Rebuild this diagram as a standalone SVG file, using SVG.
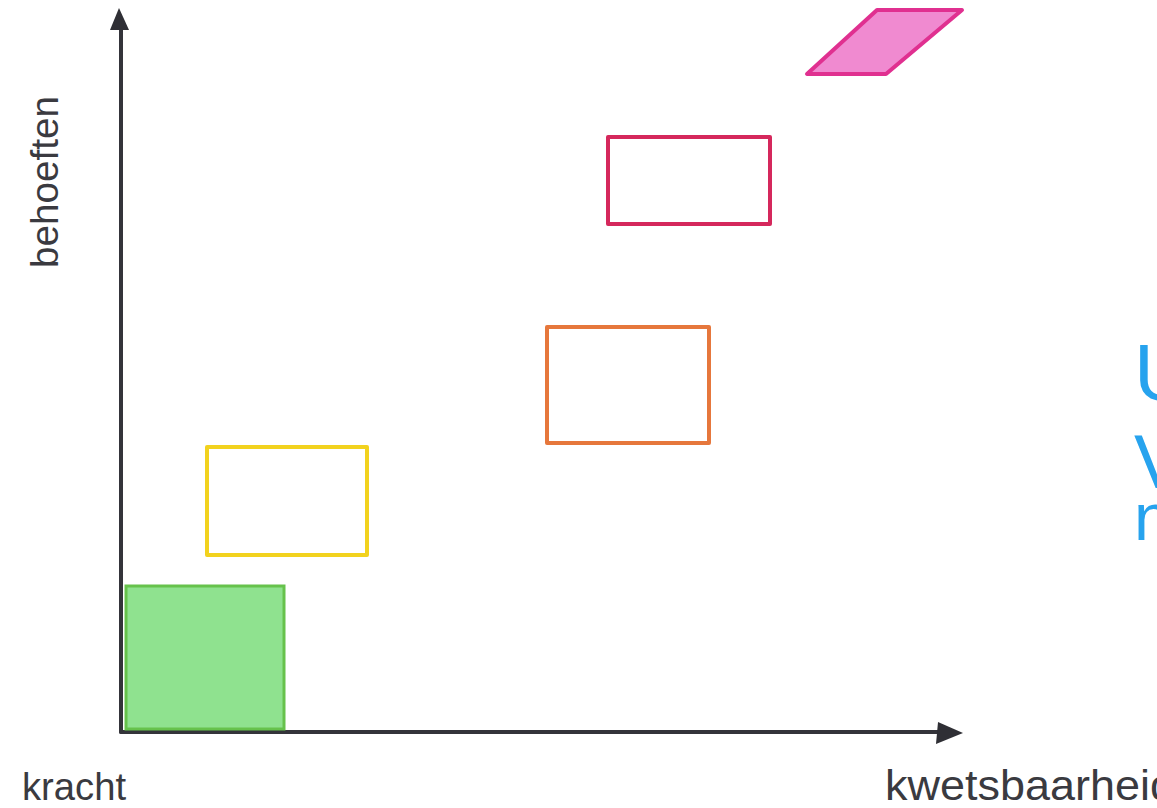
<svg xmlns="http://www.w3.org/2000/svg" width="1157" height="808" viewBox="0 0 1157 808">
<style>
.axis{stroke:#34343a;stroke-width:4;fill:none;stroke-linecap:round}
.head{fill:#2f2f35}
.box{fill:none;stroke-width:4;stroke-linejoin:round}
.hand{font-family:"Liberation Sans",sans-serif;fill:#3a3a40;font-weight:normal}
.blue{font-family:"Liberation Sans",sans-serif;fill:#27a3ee}
</style>
<rect width="1157" height="808" fill="#ffffff"/>
<g id="connectors">
<line class="axis" x1="121" y1="732" x2="121" y2="24"/>
<polygon class="head" points="119,8 110,30 129,30"/>
<line class="axis" x1="121" y1="732" x2="940" y2="732"/>
<polygon class="head" points="963,733 938,722 936,744"/>
</g>
<g id="green">
<rect x="126" y="586" width="158" height="143" fill="#8fe28f" stroke="#66c24c" stroke-width="3"/>
</g>
<g id="yellow">
<rect class="box" x="207" y="447" width="160" height="108" stroke="#f2d21e"/>
</g>
<g id="orange">
<rect class="box" x="547" y="327" width="162" height="116" stroke="#e6773c"/>
</g>
<g id="red">
<rect class="box" x="608" y="137" width="162" height="87" stroke="#d5285c"/>
</g>
<g id="pink">
<polygon points="807,74 886,74 962,10 877,10" fill="#f08ad0" stroke="#e03090" stroke-width="4" stroke-linejoin="round"/>
</g>
<g id="label-y">
<text class="hand" x="0" y="0" font-size="38" textLength="172" lengthAdjust="spacingAndGlyphs" transform="translate(58,268) rotate(-90)">behoeften</text>
</g>
<g id="label-origin">
<text class="hand" x="22" y="800" font-size="38" textLength="104" lengthAdjust="spacingAndGlyphs">kracht</text>
</g>
<g id="label-x">
<text class="hand" x="885" y="800" font-size="42" textLength="290" lengthAdjust="spacingAndGlyphs">kwetsbaarheid</text>
</g>
<g id="blue-text">
<text class="blue" x="1134" y="400" font-size="80">U</text>
<text class="blue" x="1134" y="488" font-size="76">V</text>
<text class="blue" x="1134" y="540" font-size="66">n</text>
</g>
</svg>
